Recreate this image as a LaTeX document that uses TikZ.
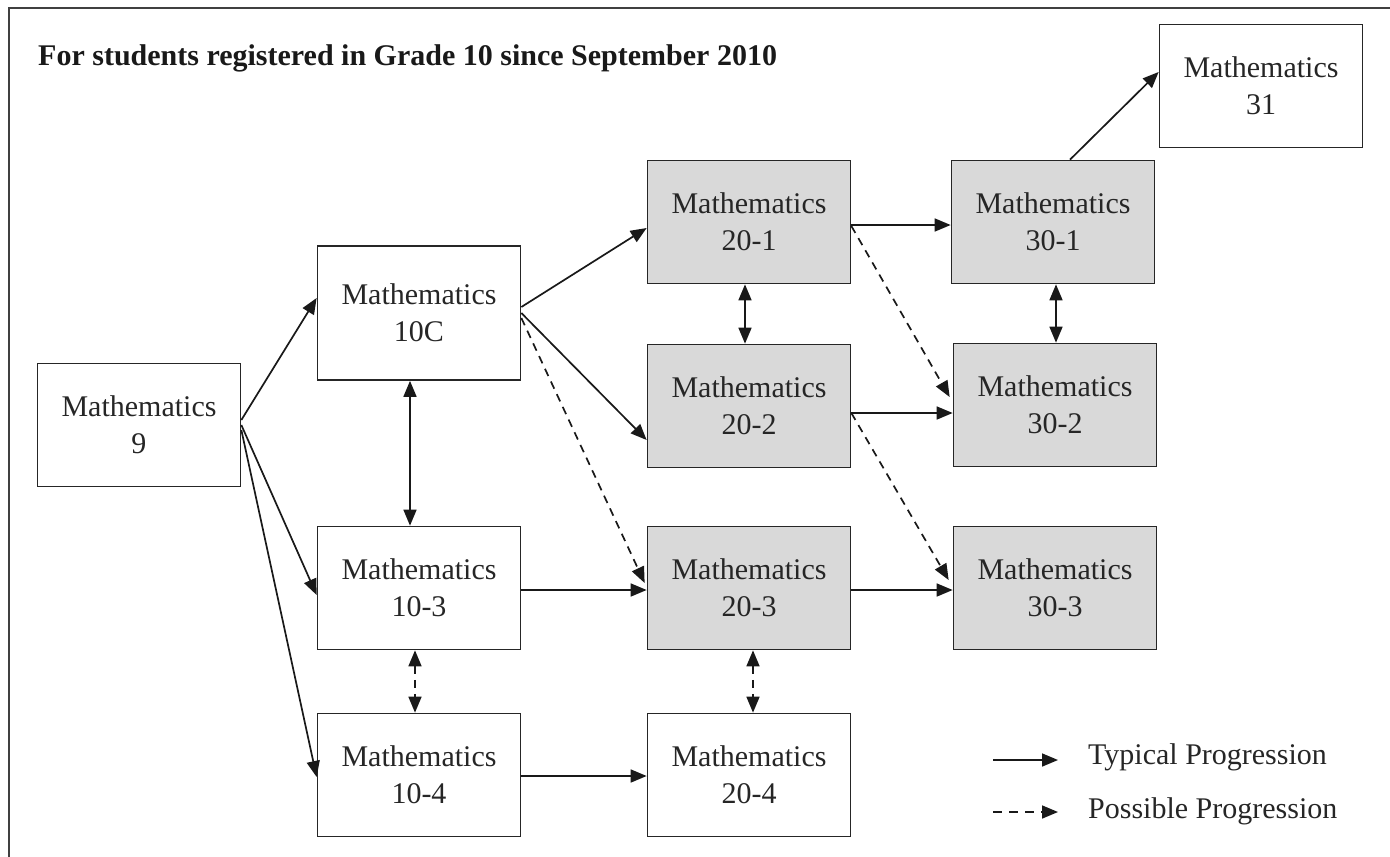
\documentclass[tikz,border=0pt]{standalone}
\usepackage{fontspec}
\setmainfont{Liberation Serif}
\usetikzlibrary{arrows.meta,calc}
\begin{document}
\begin{tikzpicture}[x=1pt,y=-1pt,
  box/.style={draw=black!85,line width=1.7pt,minimum width=203pt,minimum height=123pt,
    align=center,font=\fontsize{30}{37}\selectfont,text=black!85,inner sep=0pt},
  gbox/.style={box,fill=black!15},
  tip/.tip={Triangle[length=16pt,width=13pt]},
  con/.style={line width=1.7pt,draw=black!90,-tip},
  dcon/.style={con,dash pattern=on 8pt off 6pt},
  bicon/.style={line width=1.7pt,draw=black!90,tip-tip},
  dbicon/.style={bicon,dash pattern=on 8pt off 6pt},
  legtext/.style={anchor=base west,font=\fontsize{30}{32}\selectfont,text=black!85,inner sep=0pt}
]
\useasboundingbox (0,0) rectangle (1390,857);
\draw[line width=2pt,black!75] (9,857) -- (9,8) -- (1390,8);

\node[anchor=base west,inner sep=0pt,text=black!90,font=\bfseries\fontsize{30}{32}\selectfont] (title) at (38,65)
  {For students registered in Grade 10 since September 2010};

\node[box]  (m9)   at (139,425) {Mathematics\\9};
\node[box,minimum height=134pt]  (m10c) at (419,313) {Mathematics\\10C};
\node[box]  (m103) at (419,588) {Mathematics\\10-3};
\node[box]  (m104) at (419,775) {Mathematics\\10-4};
\node[gbox] (m201) at (749,222) {Mathematics\\20-1};
\node[gbox] (m202) at (749,406) {Mathematics\\20-2};
\node[gbox] (m203) at (749,588) {Mathematics\\20-3};
\node[box]  (m204) at (749,775) {Mathematics\\20-4};
\node[gbox] (m301) at (1053,222) {Mathematics\\30-1};
\node[gbox] (m302) at (1055,405) {Mathematics\\30-2};
\node[gbox] (m303) at (1055,588) {Mathematics\\30-3};
\node[box]  (m31)  at (1261,86) {Mathematics\\31};

% from Mathematics 9
\draw[con] ($(m9.east)+(0,-5)$) -- ($(m10c.west)+(0,-15)$);
\draw[con] ($(m9.east)+(0,0)$) -- ($(m103.west)+(0,7)$);
\draw[con] ($(m9.east)+(0,5)$) -- ($(m104.west)+(0,2)$);
% from 10C
\draw[con] ($(m10c.east)+(0,-6)$) -- ($(m201.west)+(0,6)$);
\draw[con] ($(m10c.east)+(0,0)$) -- ($(m202.west)+(0,34)$);
\draw[dcon] ($(m10c.east)+(0,5)$) -- ($(m203.west)+(-2,-5)$);
\draw[bicon] ($(m10c.south)+(-9,0)$) -- ($(m103.north)+(-9,0)$);
% from 10-3
\draw[con] ($(m103.east)+(0,2)$) -- ($(m203.west)+(0,2)$);
\draw[dbicon] ($(m103.south)+(-4,0)$) -- ($(m104.north)+(-4,0)$);
% from 10-4
\draw[con] ($(m104.east)+(0,1)$) -- ($(m204.west)+(0,1)$);
% between 20s
\draw[bicon] ($(m201.south)+(-4,0)$) -- ($(m202.north)+(-4,0)$);
\draw[dbicon] ($(m203.south)+(4,0)$) -- ($(m204.north)+(4,0)$);
% from 20-1
\draw[con] ($(m201.east)+(0,3)$) -- ($(m301.west)+(0,3)$);
\draw[dcon] ($(m201.east)+(0,4)$) -- ($(m302.west)+(-3,-8)$);
% from 20-2
\draw[con] ($(m202.east)+(0,7)$) -- ($(m302.west)+(0,8)$);
\draw[dcon] ($(m202.east)+(0,7)$) -- ($(m303.west)+(-4,-8)$);
% from 20-3
\draw[con] ($(m203.east)+(0,2)$) -- ($(m303.west)+(0,2)$);
% 30s
\draw[bicon] ($(m301.south)+(3,0)$) -- ($(m302.north)+(1,0)$);
\draw[con] ($(m301.north)+(17,0)$) -- ($(m31.west)+(0,-14)$);

% legend
\coordinate (l1a) at (993,760);
\coordinate (l1b) at (1058,760);
\coordinate (l2a) at (993,812);
\coordinate (l2b) at (1058,812);
\draw[con] (l1a) -- (l1b);
\draw[dcon,dash pattern=on 9pt off 7pt] (l2a) -- (l2b);
\node[legtext] (lt1) at (1088,764) {Typical Progression};
\node[legtext] (lt2) at (1088,818) {Possible Progression};
\end{tikzpicture}
\end{document}
